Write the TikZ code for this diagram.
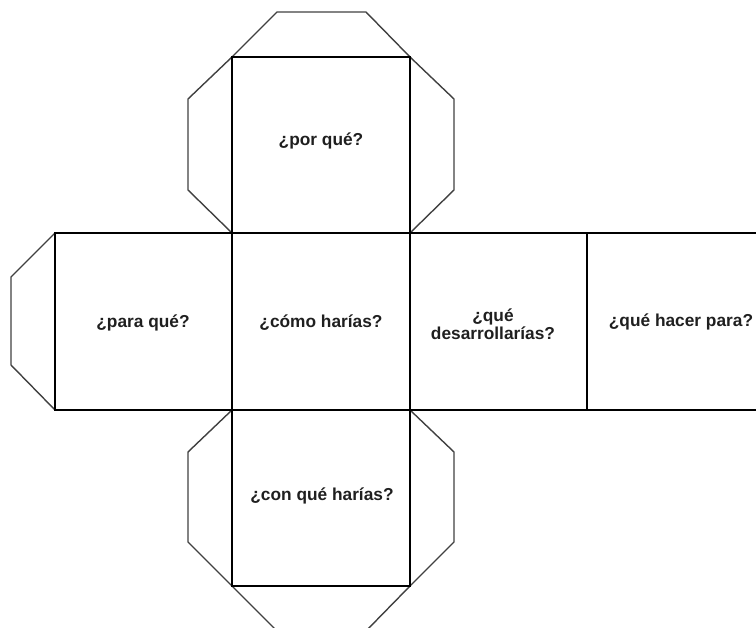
\documentclass[tikz,border=0pt]{standalone}
\usepackage{fontspec}
\setmainfont{Liberation Sans}
\begin{document}
\begin{tikzpicture}[x=1pt,y=-1pt,
  face/.style={draw=black,line width=2.2pt},
  tab/.style={draw=black!75,line width=1.4pt,line join=miter},
  lbl/.style={font=\bfseries\fontsize{17.3}{18.5}\selectfont,text=black!88,align=center,inner sep=0pt}]
\useasboundingbox (0,0) rectangle (756,628);
\clip (0,0) rectangle (756,628);
% tabs
\draw[tab] (232,57)--(277,12)--(366,12)--(410,57);
\draw[tab] (232,57)--(188,99)--(188,190)--(232,233);
\draw[tab] (410,57)--(454,99)--(454,190)--(410,233);
\draw[tab] (55,233)--(11,277)--(11,365)--(55,410);
\draw[tab] (232,410)--(188,452)--(188,542)--(232,586);
\draw[tab] (410,410)--(454,452)--(454,542)--(410,586);
\draw[tab] (232,586)--(277,631)--(366,631)--(410,586);
% faces
\draw[face] (232,57) rectangle (410,233);
\draw[face] (55,233) rectangle (232,410);
\draw[face] (232,233) rectangle (410,410);
\draw[face] (410,233) rectangle (587,410);
\draw[face] (587,233) rectangle (764,410);
\draw[face] (232,410) rectangle (410,586);
% labels
\node[lbl] (porque) at (321,141) {¿por qué?};
\node[lbl] (parque) at (143,323) {¿para qué?};
\node[lbl] (como) at (321,323) {¿cómo harías?};
\node[lbl] (desar) at (493,324) {¿qué\\desarrollarías?};
\node[lbl] (hacer) at (681,322) {¿qué hacer para?};
\node[lbl] (conque) at (322,496) {¿con qué harías?};
\end{tikzpicture}
\end{document}
